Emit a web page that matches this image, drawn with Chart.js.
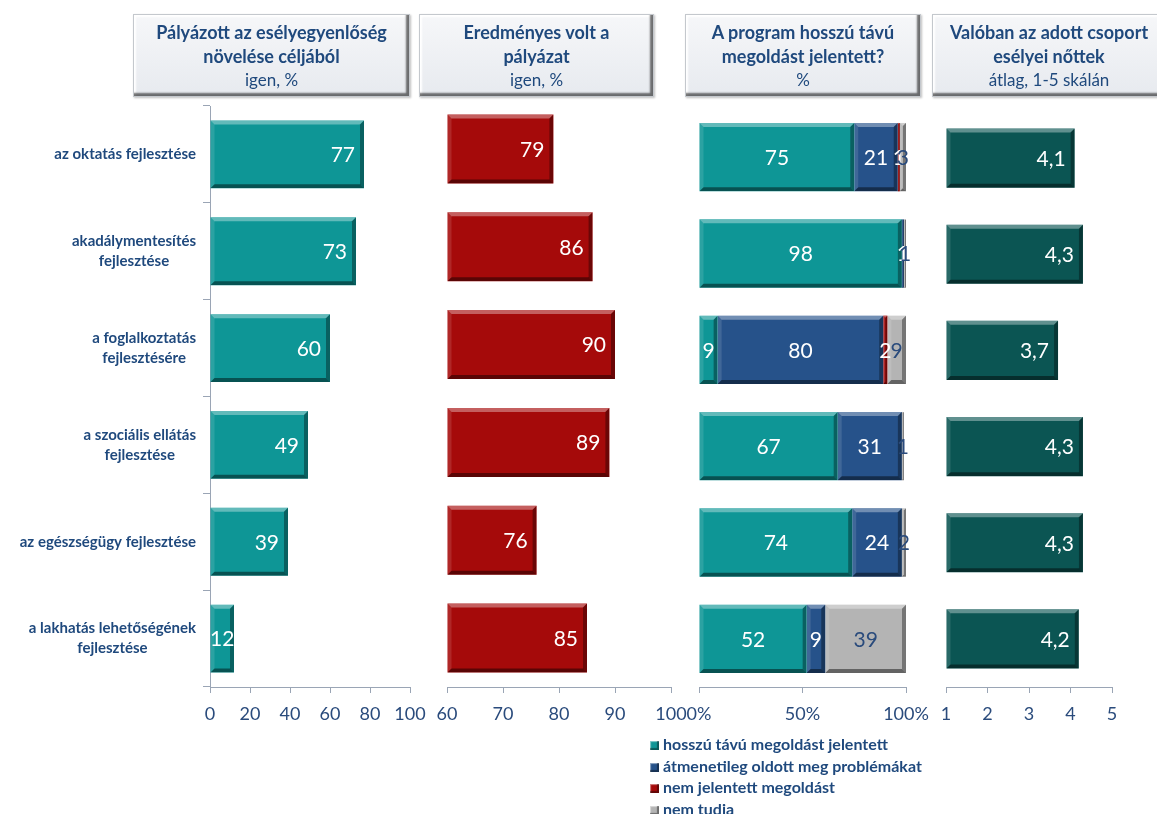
<!DOCTYPE html>
<html lang="hu">
<head>
<meta charset="utf-8">
<script src="https://cdn.jsdelivr.net/npm/chart.js@4.4.1/dist/chart.umd.min.js"></script>
<style>
  body { margin: 0; width: 1157px; height: 814px; background: #fff; position: relative; overflow: hidden; font-family: Lato, "Open Sans", sans-serif }
  canvas.panel { position: absolute; left: 0; top: 0 }
  .hdr {
    position: absolute; top: 14px; height: 83px; box-sizing: border-box;
    border: 1px solid #c4c8cd;
    background: linear-gradient(#f6f7f9, #e7eaef);
    box-shadow: inset -3px -3px 2px rgba(0,0,0,0.55), inset 2px 2px 2px #fff, 1px 1px 2px rgba(0,0,0,0.25);
    display: flex; flex-direction: column; justify-content: center;
    text-align: center; color: #1F497D; line-height: 24px; white-space: nowrap
  }
  .hdr .title { font-weight: bold; font-size: 18px }
  .hdr .sub { font-size: 17px }
  #legend { position: absolute; left: 650px; top: 733px }
  #legend div { height: 21.5px; line-height: 21.5px; font-weight: bold; font-size: 16px; color: #1F497D; white-space: nowrap }
  #legend i { display: inline-block; width: 9px; height: 9px; margin-right: 4px; vertical-align: 0; box-shadow: inset -2px -2px 1px rgba(0,0,0,0.4), inset 1px 1px 1px rgba(255,255,255,0.5) }
</style>
</head>
<body>
<canvas id="applied" class="panel" width="1157" height="814"></canvas>
<canvas id="success" class="panel" width="1157" height="814"></canvas>
<canvas id="longTerm" class="panel" width="1157" height="814"></canvas>
<canvas id="opportunity" class="panel" width="1157" height="814"></canvas>
<div id="legend"></div>
<script>
const categories = [
  ['az oktatás fejlesztése'],
  ['akadálymentesítés', 'fejlesztése'],
  ['a foglalkoztatás', 'fejlesztésére'],
  ['a szociális ellátás', 'fejlesztése'],
  ['az egészségügy fejlesztése'],
  ['a lakhatás lehetőségének', 'fejlesztése']
]

const appliedShare = [77, 73, 60, 49, 39, 12]
const successShare = [79, 86, 90, 89, 76, 85]

const longTermSeries = ['hosszú távú megoldást jelentett', 'átmenetileg oldott meg problémákat', 'nem jelentett megoldást', 'nem tudia']
const longTermYes = [75, 98, 9, 67, 74, 52]
const longTermTemporary = [21, 1, 80, 31, 24, 9]
const longTermNo = [1, 0, 2, 0, 0, 0]
const longTermUnknown = [3, 1, 9, 1, 2, 39]

const opportunityScore = [4.1, 4.3, 3.7, 4.3, 4.3, 4.2]

const headerTitles = [
  ['Pályázott az esélyegyenlőség', 'növelése céljából'],
  ['Eredményes volt a', 'pályázat'],
  ['A program hosszú távú', 'megoldást jelentett?'],
  ['Valóban az adott csoport', 'esélyei nőttek']
]
const headerSubtitles = ['igen, %', 'igen, %', '%', 'átlag, 1-5 skálán']

const TEAL = '#0E9696'
const BLUE = '#26528A'
const RED = '#A50A0A'
const GREY = '#B4B4B4'
const DARK_TEAL = '#0B5553'
const TEXT_BLUE = '#1F497D'
const AXIS_GREY = '#9AA5B5'
const seriesColors = [TEAL, BLUE, RED, GREY]

// header boxes
const headerBoxes = [[133, 277], [419, 235], [685, 236], [932, 234]]
headerBoxes.forEach(([left, width], i) => {
  const box = document.createElement('div')
  box.className = 'hdr'
  box.style.left = left + 'px'
  box.style.width = width + 'px'
  box.innerHTML = headerTitles[i].map(t => `<div class="title">${t}</div>`).join('') +
    `<div class="sub">${headerSubtitles[i]}</div>`
  document.body.appendChild(box)
})

// legend for the stacked panel
const legend = document.querySelector('#legend')
longTermSeries.forEach((name, i) => {
  legend.innerHTML += `<div><i style="background:${seriesColors[i]}"></i>${name}</div>`
})

// 3d edge on every bar, clipped to the bar and the plot area
const bevelPlugin = {
  id: 'bevel',
  afterDatasetsDraw(chart) {
    const ctx = chart.ctx
    const area = chart.chartArea
    const poly = (pts, fill) => {
      ctx.beginPath()
      ctx.moveTo(pts[0][0], pts[0][1])
      for (let k = 1; k < pts.length; k++) ctx.lineTo(pts[k][0], pts[k][1])
      ctx.closePath()
      ctx.fillStyle = fill
      ctx.fill()
    }
    chart.data.datasets.forEach((ds, i) => {
      chart.getDatasetMeta(i).data.forEach(bar => {
        const {x, y, base, height} = bar.getProps(['x', 'y', 'base', 'height'], true)
        const l = Math.max(Math.min(x, base), area.left), r = Math.max(x, base)
        const t = y - height / 2, b = y + height / 2
        if (r - l < 0.5) return
        const s = Math.min(4, (r - l) / 2)
        ctx.save()
        ctx.beginPath()
        ctx.rect(l, t, r - l, b - t)
        ctx.clip()
        poly([[l, t], [r, t], [r - s, t + s], [l + s, t + s]], 'rgba(255,255,255,0.35)')
        poly([[l, t], [l + s, t + s], [l + s, b - s], [l, b]], 'rgba(255,255,255,0.12)')
        poly([[r, t], [r, b], [r - s, b - s], [r - s, t + s]], 'rgba(0,0,0,0.35)')
        poly([[l, b], [r, b], [r - s, b - s], [l + s, b - s]], 'rgba(0,0,0,0.45)')
        ctx.restore()
      })
    })
  }
}

// value labels, either at the bar end or in the middle of the segment
const valueLabels = (placement, format) => ({
  id: 'valueLabels',
  afterDatasetsDraw(chart) {
    const ctx = chart.ctx
    const area = chart.chartArea
    ctx.save()
    ctx.font = '21px Lato'
    ctx.textBaseline = 'middle'
    ctx.textAlign = 'center'
    chart.data.datasets.forEach((ds, i) => {
      chart.getDatasetMeta(i).data.forEach((bar, j) => {
        const value = ds.data[j]
        if (!value) return
        const {x, y, base} = bar.getProps(['x', 'y', 'base'], true)
        const text = format(value)
        const w = ctx.measureText(text).width
        const l = Math.max(Math.min(x, base), area.left), r = Math.max(x, base)
        let cx = (l + r) / 2
        if (placement === 'end' && r - l > w + 20) cx = r - 9 - w / 2
        ctx.fillStyle = ds.labelColor || '#fff'
        ctx.fillText(text, cx, y + 1)
      })
    })
    ctx.restore()
  }
})

// category names left of the first panel
const categoryLabels = {
  id: 'categoryLabels',
  afterDraw(chart) {
    const ctx = chart.ctx
    const yScale = chart.scales.y
    ctx.save()
    ctx.font = 'bold 15px Lato'
    ctx.fillStyle = TEXT_BLUE
    ctx.textAlign = 'center'
    ctx.textBaseline = 'middle'
    categories.forEach((lines, i) => {
      const y = yScale.getPixelForValue(i)
      const maxW = Math.max(...lines.map(line => ctx.measureText(line).width))
      const cx = 196 - maxW / 2
      lines.forEach((line, k) => {
        ctx.fillText(line, cx, y + (k - (lines.length - 1) / 2) * 20)
      })
    })
    ctx.restore()
  }
}

const AXIS_BAND = 45

const makePanel = (canvasId, area, datasets, xScale, opts) => {
  const {showCategoryAxis = false, stacked = false, barPercentage = 0.7, placement = 'end', format = v => String(v), extraPlugins = []} = opts
  return new Chart(document.querySelector('#' + canvasId), {
    type: 'bar',
    data: {
      labels: categories.map(c => c.join(' ')),
      datasets: datasets.map(ds => ({
        ...ds,
        base: stacked ? undefined : xScale.min,
        barPercentage,
        categoryPercentage: 1,
        borderWidth: 0
      }))
    },
    options: {
      indexAxis: 'y',
      responsive: false,
      animation: false,
      events: [],
      layout: {
        padding: {left: area.left, right: 1157 - area.right, top: area.top, bottom: 814 - area.bottom - AXIS_BAND}
      },
      plugins: {legend: {display: false}, tooltip: {enabled: false}},
      scales: {
        x: {
          stacked,
          ...xScale,
          grid: {drawOnChartArea: false, tickLength: 6, color: AXIS_GREY},
          border: {color: AXIS_GREY, width: 1},
          ticks: {
            ...xScale.ticks,
            color: '#2A4B7C',
            font: {family: 'Lato', size: 18},
            padding: 10,
            maxRotation: 0,
            autoSkip: false
          },
          afterFit: s => { s.height = AXIS_BAND; s.paddingLeft = 0; s.paddingRight = 0 }
        },
        y: {
          stacked,
          display: showCategoryAxis,
          grid: {offset: true, drawOnChartArea: false, tickLength: 7, color: AXIS_GREY},
          border: {color: AXIS_GREY, width: 1},
          ticks: {display: false},
          afterFit: s => { s.width = 0; s.paddingTop = 0; s.paddingBottom = 0 }
        }
      }
    },
    plugins: [bevelPlugin, valueLabels(placement, format), ...extraPlugins]
  })
}

makePanel('applied', {left: 210, right: 410, top: 106, bottom: 687},
  [{data: appliedShare, backgroundColor: TEAL}],
  {min: 0, max: 100, ticks: {stepSize: 20}},
  {showCategoryAxis: true, extraPlugins: [categoryLabels]})

makePanel('success', {left: 447, right: 671, top: 100, bottom: 687},
  [{data: successShare, backgroundColor: RED}],
  {min: 60, max: 100, ticks: {stepSize: 10}},
  {barPercentage: 0.705})

makePanel('longTerm', {left: 699, right: 906, top: 109, bottom: 687},
  [
    {label: longTermSeries[0], data: longTermYes, backgroundColor: TEAL},
    {label: longTermSeries[1], data: longTermTemporary, backgroundColor: BLUE},
    {label: longTermSeries[2], data: longTermNo, backgroundColor: RED},
    {label: longTermSeries[3], data: longTermUnknown, backgroundColor: GREY, labelColor: '#2A4B7C'}
  ],
  {min: 0, max: 100, ticks: {stepSize: 50, callback: v => v + '%'}},
  {stacked: true, barPercentage: 0.71, placement: 'center'})

makePanel('opportunity', {left: 946, right: 1112, top: 110, bottom: 687},
  [{data: opportunityScore, backgroundColor: DARK_TEAL}],
  {min: 1, max: 5, ticks: {stepSize: 1}},
  {barPercentage: 0.615, format: v => v.toFixed(1).replace('.', ',')})
</script>
</body>
</html>
